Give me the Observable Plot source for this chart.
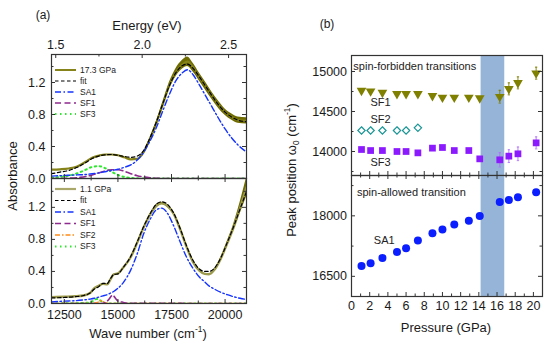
<!DOCTYPE html>
<html><head><meta charset="utf-8">
<script src="https://cdn.jsdelivr.net/npm/d3@7"></script>
<script src="https://cdn.jsdelivr.net/npm/@observablehq/plot@0.6"></script>
<style>
body{margin:0;background:#fff;}
#wrap{position:relative;width:552px;height:350px;overflow:hidden;font-family:"Liberation Sans",Arial,sans-serif;color:#1a1a1a;}
#wrap > svg{position:absolute;left:0;top:0;}
.t{position:absolute;white-space:nowrap;line-height:1;transform:translate(-50%,-50%);}
.r{transform:translate(-50%,-50%) rotate(-90deg);}
sup,sub{font-size:65%;line-height:0;}
</style></head><body><div id="wrap"></div>
<script>
// ---------- left panel, 17.3 GPa ----------
const wnTop   = [11900,12300,12700,13100,13500,13800,14100,14400,14700,15000,15300,15600,15900,16200,16500,16800,17100,17400,17700,18000,18250,18500,18800,19100,19400,19700,20000,20300,20600,21000];
const measTop = [0.11,0.115,0.125,0.15,0.21,0.26,0.285,0.30,0.30,0.29,0.265,0.24,0.245,0.33,0.50,0.70,0.93,1.16,1.32,1.42,1.46,1.39,1.27,1.15,1.03,0.92,0.83,0.77,0.73,0.72];
const noiseTop= [0,0,0,0,0,0,0,0,0,0,0,0,0,0.005,0.01,0.02,0.03,0.04,0.05,0.055,0.06,0.055,0.05,0.05,0.045,0.045,0.04,0.04,0.04,0.04];
const fitTop  = [0.06,0.08,0.10,0.14,0.20,0.25,0.28,0.295,0.30,0.29,0.275,0.265,0.28,0.35,0.51,0.71,0.94,1.16,1.32,1.41,1.43,1.38,1.27,1.15,1.03,0.92,0.83,0.77,0.73,0.71];
const sa1Top  = [0.03,0.035,0.04,0.045,0.05,0.06,0.07,0.085,0.10,0.115,0.14,0.17,0.23,0.33,0.47,0.64,0.85,1.05,1.22,1.32,1.36,1.30,1.17,1.03,0.89,0.75,0.62,0.51,0.42,0.33];
const sf1Top  = [0,0,0.003,0.01,0.025,0.045,0.07,0.095,0.11,0.11,0.09,0.06,0.035,0.02,0.01,0.004,0,0,0,0,0,0,0,0,0,0,0,0,0,0];
const sf3Top  = [0.01,0.02,0.035,0.065,0.11,0.145,0.155,0.13,0.085,0.045,0.02,0.008,0.002,0,0,0,0,0,0,0,0,0,0,0,0,0,0,0,0,0];

// ---------- left panel, 1.1 GPa ----------
const wnBot   = [11900,12500,13000,13400,13700,13900,14100,14300,14500,14650,14800,15000,15250,15600,15900,16200,16500,16800,17050,17300,17600,17900,18200,18500,18800,19050,19250,19500,19800,20100,20400,20700,21000];
const measBot = [0.08,0.085,0.09,0.10,0.13,0.19,0.22,0.245,0.24,0.30,0.365,0.375,0.45,0.58,0.76,0.95,1.11,1.22,1.25,1.22,1.12,0.93,0.71,0.52,0.41,0.37,0.365,0.42,0.56,0.75,0.95,1.19,1.45];
const noiseBot= [0,0,0,0,0,0,0,0,0,0,0,0,0,0,0,0,0.01,0.015,0.015,0.015,0.01,0.005,0,0,0,0,0,0.005,0.015,0.025,0.04,0.07,0.12];
const fitBot  = [0.07,0.075,0.085,0.10,0.13,0.18,0.21,0.25,0.25,0.31,0.36,0.37,0.45,0.59,0.77,0.96,1.12,1.24,1.27,1.24,1.13,0.94,0.72,0.54,0.43,0.40,0.40,0.44,0.57,0.76,0.96,1.18,1.40];
const sa1Bot  = [0.02,0.03,0.035,0.045,0.055,0.065,0.08,0.095,0.11,0.13,0.15,0.19,0.26,0.42,0.62,0.87,1.05,1.17,1.19,1.13,0.97,0.77,0.58,0.44,0.33,0.27,0.22,0.18,0.14,0.11,0.085,0.065,0.05];
const wnSfBot = [11900,13700,13850,14000,14100,14200,14300,14400,14500,14600,14700,14750,14800,14900,15000,15100,15200,15300,15500,21000];
const sf1Bot  = [0,0,0,0,0,0,0.002,0.01,0.03,0.06,0.095,0.105,0.095,0.06,0.03,0.02,0.018,0.01,0.003,0];
const sf2Bot  = [0,0,0.003,0.01,0.02,0.035,0.025,0.01,0.003,0,0,0,0,0,0,0,0,0,0,0];
const sf3Bot  = [0,0.01,0.035,0.055,0.05,0.035,0.015,0.005,0,0,0,0,0,0,0,0,0,0,0,0];

// ---------- right panel ----------
const pressure = [1.1,2.1,3.4,5.0,6.0,7.3,8.9,10.0,11.3,12.9,14.1,16.3,17.3,18.3,20.3];
const peakSF1  = [14762,14754,14737,14721,14721,14721,14696,14675,14675,14675,14667,14685,14783,14858,14979];
const errSF1   = [0,0,0,0,0,0,0,0,0,0,0,80,75,75,75];
const pressureSF2 = [1.1,2.1,3.4,5.0,6.0,7.3];
const peakSF2  = [14263,14263,14263,14263,14263,14296];
const peakSF3  = [14025,14012,14012,14000,14000,13983,14042,14050,14012,14012,13908,13896,13942,13971,14108];
const errSF3   = [0,0,0,0,0,0,0,0,0,0,0,90,80,85,75];
const peakSA1  = [16756,16823,16955,17104,17197,17388,17570,17662,17786,17876,17993,18341,18390,18458,18582];
const bandGPa  = [14.25,16.85];

// ---------- axes ----------
const wnDomain = [11900,21000];
const absDomainTop = [0,1.55];
const absDomainBot = [0,1.56];
const wnTicks = [12500,15000,17500,20000];
const wnMinor = [13750,16250,18750];
const evTicks = [1.5,2.0,2.5];
const evMinor = [1.75,2.25];
const EV = 8065.54; // cm^-1 per eV
const absTicks = [0,0.4,0.8,1.2];
const absMinor = [0.2,0.6,1.0,1.4];
const pDomain = [0,21];
const pTicks = [0,2,4,6,8,10,12,14,16,18,20];
const pMinor = [1,3,5,7,9,11,13,15,17,19,21];
const sfDomain = [13700,15200];
const sfTicks = [14000,14500,15000];
const sfMinor = [13750,14250,14750];
const saDomain = [16000,19000];
const saTicks = [16500,18000];
const saMinor = [17250,18750];

const FONT = '"Liberation Sans", Arial, sans-serif';
const S = {
  fit: {stroke:"#000", strokeWidth:1.2, strokeDasharray:"3.5,2.5"},
  sa1: {stroke:"#1433ff", strokeWidth:1.4, strokeDasharray:"6,2.5,1.5,2.5"},
  sf1: {stroke:"#8e2a8e", strokeWidth:1.6, strokeDasharray:"6,3.5"},
  sf2: {stroke:"#ff8c1a", strokeWidth:1.3, strokeDasharray:"5,2,1.5,2"},
  sf3: {stroke:"#2ee82e", strokeWidth:2, strokeDasharray:"1.5,3.5"}
};
const OLIVE_TOP = "#85831a", OLIVE_BOT = "#9c9a4c", OLIVE_NOISE = "#6e6b00";
const FRAME = "#333";
const curve = "monotone-x";

function base(o){
  return Object.assign({width:552, height:350,
    style:{background:"transparent", fontFamily:FONT, fontSize:"12.5px", color:"#1a1a1a", overflow:"visible"}}, o);
}
function tk(vals, side, fw, fh, len){
  const o = {stroke:FRAME, strokeWidth:1};
  if (side==="bottom") return Plot.tickX(vals,{x:d=>d, insetTop:fh-len, ...o});
  if (side==="top")    return Plot.tickX(vals,{x:d=>d, insetBottom:fh-len, ...o});
  if (side==="left")   return Plot.tickY(vals,{y:d=>d, insetRight:fw-len, ...o});
  return Plot.tickY(vals,{y:d=>d, insetLeft:fw-len, ...o});
}
const wrap = document.getElementById("wrap");
function add(svg){ wrap.appendChild(svg); }

// ---------- LT ----------
{
  const rows = wnTop.map((w,i)=>({w, m:measTop[i], n:noiseTop[i], f:fitTop[i], sa:sa1Top[i], s1:sf1Top[i], s3:sf3Top[i]}));
  const fw = 195, fh = 124;
  add(Plot.plot(base({
    marginLeft:51, marginRight:306, marginTop:54, marginBottom:172,
    x:{domain:wnDomain}, y:{domain:absDomainTop},
    marks:[
      Plot.areaY(rows,{x:"w", y1:d=>d.m-d.n, y2:d=>d.m+d.n, fill:OLIVE_NOISE, curve, clip:true}),
      Plot.line(rows,{x:"w", y:"m", stroke:OLIVE_TOP, strokeWidth:2.2, curve, clip:true}),
      Plot.line(rows,{x:"w", y:"s3", ...S.sf3, curve, clip:true}),
      Plot.line(rows,{x:"w", y:"s1", ...S.sf1, curve, clip:true}),
      Plot.line(rows,{x:"w", y:"sa", ...S.sa1, curve, clip:true}),
      Plot.line(rows,{x:"w", y:"f", ...S.fit, curve, clip:true}),
      Plot.frame({stroke:FRAME, strokeWidth:1.2}),
      tk(evTicks.map(e=>e*EV),"top",fw,fh,4), tk(evMinor.map(e=>e*EV),"top",fw,fh,2.5),
      tk(wnTicks,"bottom",fw,fh,4), tk(wnMinor,"bottom",fw,fh,2.5),
      tk(absTicks,"left",fw,fh,4), tk(absMinor,"left",fw,fh,2.5),
      tk(absTicks,"right",fw,fh,4), tk(absMinor,"right",fw,fh,2.5),
      Plot.axisX({anchor:"top", ticks:evTicks.map(e=>e*EV), tickFormat:d=>(d/EV).toFixed(1), tickSize:0, tickPadding:6, label:null}),
      Plot.axisY({anchor:"left", ticks:absTicks, tickFormat:d3.format(".1f"), tickSize:0, tickPadding:6, label:null})
    ]
  })));
}
// ---------- LB ----------
{
  const rows = wnBot.map((w,i)=>({w, m:measBot[i], n:noiseBot[i], f:fitBot[i], sa:sa1Bot[i]}));
  const sf = wnSfBot.map((w,i)=>({w, s1:sf1Bot[i], s2:sf2Bot[i], s3:sf3Bot[i]}));
  const fw = 195, fh = 125;
  add(Plot.plot(base({
    marginLeft:51, marginRight:306, marginTop:178, marginBottom:47,
    x:{domain:wnDomain}, y:{domain:absDomainBot},
    marks:[
      Plot.areaY(rows,{x:"w", y1:d=>d.m-d.n, y2:d=>d.m+d.n, fill:OLIVE_NOISE, curve, clip:true}),
      Plot.line(rows,{x:"w", y:"m", stroke:OLIVE_BOT, strokeWidth:2.4, curve, clip:true}),
      Plot.line(sf,{x:"w", y:"s3", ...S.sf3, curve, clip:true}),
      Plot.line(sf,{x:"w", y:"s2", ...S.sf2, curve, clip:true}),
      Plot.line(sf,{x:"w", y:"s1", ...S.sf1, curve, clip:true}),
      Plot.line(rows,{x:"w", y:"sa", ...S.sa1, curve, clip:true}),
      Plot.line(rows,{x:"w", y:"f", ...S.fit, curve, clip:true}),
      Plot.frame({stroke:FRAME, strokeWidth:1.2}),
      tk(wnTicks,"top",fw,fh,4), tk(wnMinor,"top",fw,fh,2.5),
      tk(wnTicks,"bottom",fw,fh,4), tk(wnMinor,"bottom",fw,fh,2.5),
      tk(absTicks,"left",fw,fh,4), tk(absMinor,"left",fw,fh,2.5),
      tk(absTicks,"right",fw,fh,4), tk(absMinor,"right",fw,fh,2.5),
      Plot.axisX({anchor:"bottom", ticks:wnTicks, tickFormat:d3.format("d"), tickSize:0, tickPadding:7, label:null}),
      Plot.axisY({anchor:"left", ticks:absTicks, tickFormat:d3.format(".1f"), tickSize:0, tickPadding:6, label:null})
    ]
  })));
}
// ---------- RT ----------
const capSym = {draw(ctx, size){ const w = Math.sqrt(size)/2; ctx.moveTo(-w,0); ctx.lineTo(w,0); }};
{
  const fw = 191, fh = 120;
  const sf1 = pressure.map((p,i)=>({p, v:peakSF1[i], e:errSF1[i]}));
  const sf2 = pressureSF2.map((p,i)=>({p, v:peakSF2[i]}));
  const sf3 = pressure.map((p,i)=>({p, v:peakSF3[i], e:errSF3[i]}));
  const err1 = sf1.filter(d=>d.e>0), err3 = sf3.filter(d=>d.e>0);
  const band = [{a:bandGPa[0], b:bandGPa[1], lo:sfDomain[0], hi:sfDomain[1]}];
  const C1 = "#7f7f00", C2 = "#1a9595", C3 = "#8c1aff", E3 = "#b070ff";
  add(Plot.plot(base({
    marginLeft:351, marginRight:10, marginTop:55, marginBottom:175,
    x:{domain:pDomain, axis:null}, y:{domain:sfDomain},
    marks:[
      Plot.rect(band,{x1:"a", x2:"b", y1:"lo", y2:"hi", fill:"#96b4d8"}),
      Plot.ruleX(err1,{x:"p", y1:d=>d.v-d.e, y2:d=>d.v+d.e, stroke:C1, strokeWidth:0.9}),
      Plot.dot(err1,{x:"p", y:d=>d.v+d.e, symbol:capSym, r:1.3, stroke:C1, strokeWidth:0.9}),
      Plot.dot(err1,{x:"p", y:d=>d.v-d.e, symbol:capSym, r:1.3, stroke:C1, strokeWidth:0.9}),
      Plot.ruleX(err3,{x:"p", y1:d=>d.v-d.e, y2:d=>d.v+d.e, stroke:E3, strokeWidth:0.9}),
      Plot.dot(err3,{x:"p", y:d=>d.v+d.e, symbol:capSym, r:1.3, stroke:E3, strokeWidth:0.9}),
      Plot.dot(err3,{x:"p", y:d=>d.v-d.e, symbol:capSym, r:1.3, stroke:E3, strokeWidth:0.9}),
      Plot.dot(sf1,{x:"p", y:"v", symbol:"triangle", rotate:180, r:3.6, fill:C1, stroke:"none"}),
      Plot.dot(sf2,{x:"p", y:"v", symbol:"diamond2", r:3.3, fill:"none", stroke:C2, strokeWidth:1.2}),
      Plot.dot(sf3,{x:"p", y:"v", symbol:"square", r:3.8, fill:C3, stroke:"none"}),
      Plot.text([{x:0.2, y:15062, t:"spin-forbidden transitions"}],{x:"x", y:"y", text:"t", textAnchor:"start", fontSize:11, fill:"#222"}),
      Plot.text([{x:3.2, y:14616, t:"SF1"},{x:3.2, y:14400, t:"SF2"},{x:3.2, y:13866, t:"SF3"}],{x:"x", y:"y", text:"t", fontSize:11, fill:"#222"}),
      Plot.frame({stroke:FRAME, strokeWidth:1.2}),
      tk(pTicks,"bottom",fw,fh,4), tk(pMinor,"bottom",fw,fh,2.5),
      tk(sfTicks,"left",fw,fh,4), tk(sfMinor,"left",fw,fh,2.5),
      tk(sfTicks,"right",fw,fh,4), tk(sfMinor,"right",fw,fh,2.5),
      Plot.axisY({anchor:"left", ticks:sfTicks, tickFormat:d3.format("d"), tickSize:0, tickPadding:4.5, label:null})
    ]
  })));
}
// ---------- RB ----------
{
  const fw = 191, fh = 121;
  const sa = pressure.map((p,i)=>({p, v:peakSA1[i]}));
  const band = [{a:bandGPa[0], b:bandGPa[1], lo:saDomain[0], hi:saDomain[1]}];
  add(Plot.plot(base({
    marginLeft:351, marginRight:10, marginTop:175, marginBottom:54,
    x:{domain:pDomain}, y:{domain:saDomain},
    marks:[
      Plot.rect(band,{x1:"a", x2:"b", y1:"lo", y2:"hi", fill:"#96b4d8"}),
      Plot.dot(sa,{x:"p", y:"v", r:4, fill:"#0a1eff", stroke:"none"}),
      Plot.text([{x:0.6, y:18571, t:"spin-allowed transition"}],{x:"x", y:"y", text:"t", textAnchor:"start", fontSize:11, fill:"#222"}),
      Plot.text([{x:3.6, y:17387, t:"SA1"}],{x:"x", y:"y", text:"t", fontSize:11, fill:"#222"}),
      Plot.frame({stroke:FRAME, strokeWidth:1.2}),
      tk(pTicks,"top",fw,fh,4), tk(pMinor,"top",fw,fh,2.5),
      tk(pTicks,"bottom",fw,fh,4), tk(pMinor,"bottom",fw,fh,2.5),
      tk(saTicks,"left",fw,fh,4), tk(saMinor,"left",fw,fh,2.5),
      tk(saTicks,"right",fw,fh,4), tk(saMinor,"right",fw,fh,2.5),
      Plot.axisX({anchor:"bottom", ticks:pTicks, tickFormat:d3.format("d"), tickSize:0, tickPadding:4.5, label:null}),
      Plot.axisY({anchor:"left", ticks:saTicks, tickFormat:d3.format("d"), tickSize:0, tickPadding:4.5, label:null})
    ]
  })));
}
// ---------- legends ----------
{
  const legTop = [
    {label:"17.3 GPa", st:{stroke:OLIVE_TOP, "stroke-width":2}},
    {label:"fit", st:{stroke:S.fit.stroke, "stroke-width":1.2, "stroke-dasharray":S.fit.strokeDasharray}},
    {label:"SA1", st:{stroke:S.sa1.stroke, "stroke-width":1.4, "stroke-dasharray":S.sa1.strokeDasharray}},
    {label:"SF1", st:{stroke:S.sf1.stroke, "stroke-width":1.6, "stroke-dasharray":S.sf1.strokeDasharray}},
    {label:"SF3", st:{stroke:S.sf3.stroke, "stroke-width":2, "stroke-dasharray":S.sf3.strokeDasharray}}
  ];
  const legBot = [
    {label:"1.1 GPa", st:{stroke:"#a9a76a", "stroke-width":2.2}},
    {label:"fit", st:{stroke:S.fit.stroke, "stroke-width":1.2, "stroke-dasharray":S.fit.strokeDasharray}},
    {label:"SA1", st:{stroke:S.sa1.stroke, "stroke-width":1.4, "stroke-dasharray":S.sa1.strokeDasharray}},
    {label:"SF1", st:{stroke:S.sf1.stroke, "stroke-width":1.6, "stroke-dasharray":S.sf1.strokeDasharray}},
    {label:"SF2", st:{stroke:S.sf2.stroke, "stroke-width":1.3, "stroke-dasharray":S.sf2.strokeDasharray}},
    {label:"SF3", st:{stroke:S.sf3.stroke, "stroke-width":2, "stroke-dasharray":S.sf3.strokeDasharray}}
  ];
  const svg = d3.create("svg").attr("width",552).attr("height",350).style("font-family",FONT);
  function leg(items, y0, dy){
    items.forEach((it,i)=>{
      const y = y0 + i*dy;
      const ln = svg.append("line").attr("x1",55).attr("x2",76).attr("y1",y).attr("y2",y);
      Object.entries(it.st).forEach(([k,v])=>ln.attr(k,v));
      svg.append("text").attr("x",80).attr("y",y).attr("dy","0.35em").attr("font-size",8.5).attr("fill","#222").text(it.label);
    });
  }
  leg(legTop, 70, 11);
  leg(legBot, 189, 11.5);
  add(svg.node());
}
// ---------- titles ----------
const T = [
  ['(a)', 43, 15, 12, false],
  ['Energy (eV)', 147, 25, 13, false],
  ['Absorbance', 12, 176, 13, true],
  ['Wave number (cm<sup>-1</sup>)', 148, 333, 13, false],
  ['(b)', 327, 24, 12, false],
  ['Peak position ω<sub>0</sub> (cm<sup>-1</sup>)', 291, 170, 13, true],
  ['Pressure (GPa)', 446, 327, 13, false]
];
T.forEach(([h,x,y,fs,rot])=>{
  const d = document.createElement("div");
  d.className = "t" + (rot ? " r" : "");
  d.style.left = x+"px"; d.style.top = y+"px"; d.style.fontSize = fs+"px";
  d.innerHTML = h;
  wrap.appendChild(d);
});
</script></body></html>
